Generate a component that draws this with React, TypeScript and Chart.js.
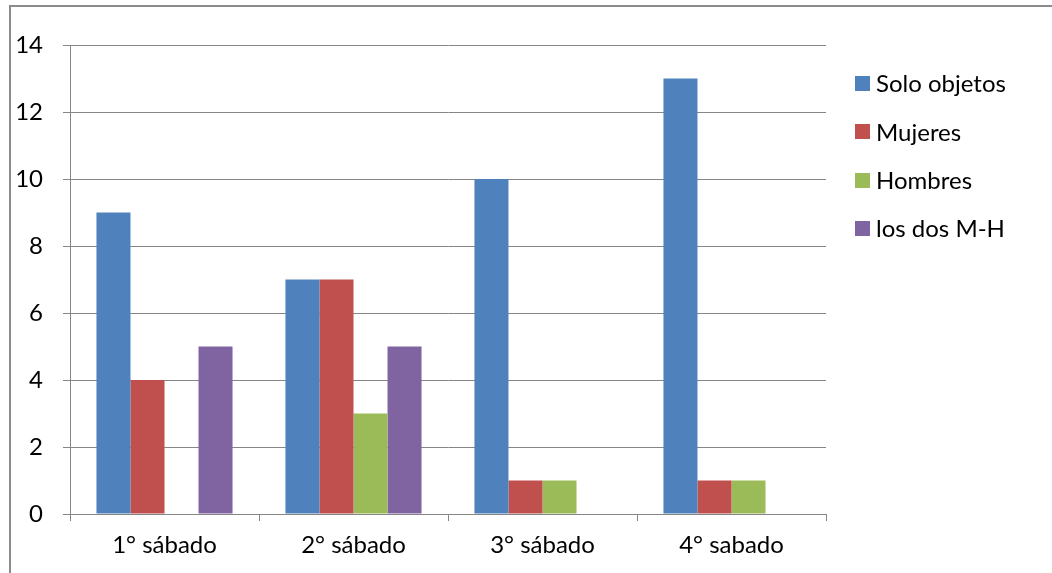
import React, { useEffect, useRef } from "react";
import { Chart, registerables } from "chart.js";

Chart.register(...registerables);

const categories = ["1° sábado", "2° sábado", "3° sábado", "4° sabado"];
const seriesNames = ["Solo objetos", "Mujeres", "Hombres", "los dos M-H"];
const soloObjetos = [9, 7, 10, 13];
const mujeres = [4, 7, 1, 1];
const hombres = [0, 3, 1, 1];
const losDos = [5, 5, 0, 0];
const seriesColors = ["#4F81BD", "#C0504D", "#9BBB59", "#8064A2"];
const yMax = 14;
const yStep = 2;

const FONT = "Lato, 'Open Sans', sans-serif";
const FONT_SIZE = 24;

const legendPlugin = {
  id: "customLegend",
  afterDraw(chart: any) {
    const ctx = chart.ctx;
    const x0 = 855;
    const y0 = 83.5;
    const gap = 48.4;
    const sq = 15;
    ctx.save();
    ctx.font = `${FONT_SIZE}px ${FONT}`;
    ctx.textBaseline = "middle";
    chart.data.datasets.forEach((ds: any, i: number) => {
      const y = y0 + i * gap;
      ctx.fillStyle = ds.backgroundColor;
      ctx.fillRect(x0, Math.round(y - sq / 2), sq, sq);
      ctx.fillStyle = "#000";
      ctx.fillText(ds.label, x0 + sq + 6, y + 1);
    });
    ctx.restore();
  },
};

export default function App() {
  const ref = useRef<HTMLCanvasElement>(null);
  useEffect(() => {
    if (!ref.current) return;
    const values = [soloObjetos, mujeres, hombres, losDos];
    const chart = new Chart(ref.current, {
      type: "bar",
      data: {
        labels: categories,
        datasets: seriesNames.map((name, i) => ({
          label: name,
          data: values[i],
          backgroundColor: seriesColors[i],
          borderWidth: 0,
          categoryPercentage: 0.72,
          barPercentage: 1,
        })),
      },
      options: {
        animation: false,
        responsive: false,
        maintainAspectRatio: false,
        layout: { padding: { left: 0, top: 45, right: 226, bottom: 0 } },
        plugins: { legend: { display: false }, tooltip: { enabled: false } },
        scales: {
          x: {
            offset: true,
            grid: {
              offset: true,
              drawOnChartArea: false,
              drawTicks: true,
              tickLength: 7,
              color: "#868686",
              lineWidth: 1,
            },
            border: { display: true, color: "#868686", width: 1 },
            ticks: {
              color: "#000",
              font: { family: FONT, size: FONT_SIZE },
              padding: 10,
            },
            afterFit(scale: any) {
              scale.height = 59;
            },
          },
          y: {
            min: 0,
            max: yMax,
            ticks: {
              stepSize: yStep,
              color: "#000",
              font: { family: FONT, size: FONT_SIZE },
              padding: 20,
            },
            grid: {
              color: "#868686",
              lineWidth: 1,
              drawTicks: true,
              tickLength: 7,
            },
            border: { display: true, color: "#868686", width: 1 },
            afterFit(scale: any) {
              scale.width = 70;
            },
          },
        },
      },
      plugins: [legendPlugin],
    });
    return () => chart.destroy();
  }, []);

  return (
    <div
      style={{
        position: "fixed",
        left: 0,
        top: 0,
        width: 1052,
        height: 573,
        overflow: "hidden",
        background: "#fff",
      }}
    >
      <div
        style={{
          position: "absolute",
          left: 9,
          top: 5,
          width: 1100,
          height: 620,
          border: "2px solid #8c8c8c",
          boxSizing: "border-box",
        }}
      />
      <canvas
        ref={ref}
        width={1052}
        height={573}
        style={{ position: "absolute", left: 0, top: 0 }}
      />
    </div>
  );
}
